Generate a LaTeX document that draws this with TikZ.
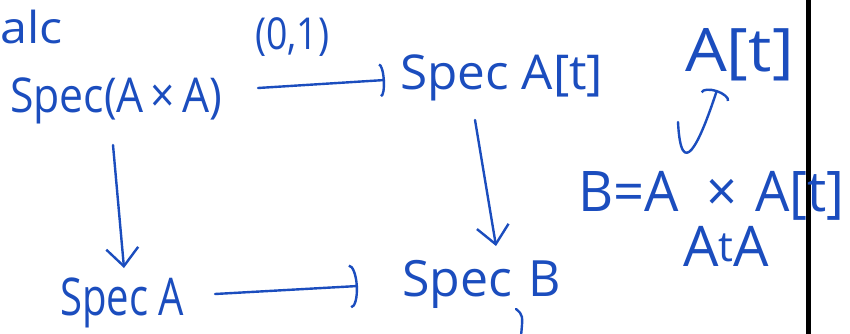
\documentclass[tikz,border=0pt]{standalone}
\usepackage{fontspec}
\setmainfont{Open Sans}
\usetikzlibrary{arrows.meta}
\definecolor{ink}{RGB}{27,77,190}
\tikzset{
  handtext/.style={anchor=base west, inner sep=0pt, text=ink},
  stroke/.style={draw=ink, line width=2.4pt, line cap=round, line join=round},
  vtip/.style={-{Straight Barb[length=18pt,width=32pt,line width=2.4pt]}},
  hooktip/.style={-{Arc Barb[length=8pt,width=44pt,line width=2.4pt]}},
  ticktip/.style={-{Arc Barb[length=5pt,width=34pt,line width=2.4pt]}},
  captip/.style={-{Arc Barb[length=7pt,width=30pt,line width=2.4pt]}}
}
\newcommand{\fs}[1]{\fontsize{#1}{#1}\selectfont}
\newcommand{\narrow}[2]{\scalebox{#1}[1]{#2}}
\begin{document}
\begin{tikzpicture}[x=1pt,y=-1pt]
  \useasboundingbox (0,0) rectangle (850,334);
  \clip (0,0) rectangle (850,334);
  \fill[white] (0,0) rectangle (850,334);

  % page divider
  \fill[black] (806,0) rectangle (811,334);

  % labels
  \node[handtext, font=\fs{44}] (calc) at (0,44) {\narrow{1.1}{alc}};
  \node[handtext, font=\fs{44}] (lab01) at (255,50) {\narrow{0.85}{(0,1)}};
  \node[handtext, font=\fs{48}] (sAA) at (10,112) {\narrow{0.89}{Spec(A\,×\,A)}};
  \node[handtext, font=\fs{48}] (sAt) at (400,90) {\narrow{1.03}{Spec A[t]}};
  \node[handtext, font=\fs{60}] (At) at (685,72) {\narrow{1.1}{A[t]}};
  \node[handtext, font=\fs{56}] (Beq) at (578,211) {\narrow{0.97}{B=A\,\,\,×\,\,A[t]}};
  \node[handtext, font=\fs{56}] (AtA) at (683,266) {A\raisebox{5pt}{\fs{42}t}A};
  \node[handtext, font=\fs{52}] (sA) at (60,315) {\narrow{0.77}{Spec A}};
  \node[handtext, font=\fs{50}] (sB) at (402,296) {Spec\,\,B};

  % maps between the spectra
  \draw[stroke, ticktip] ([xshift=248pt,yshift=24pt]sAA.base west) -- ([xshift=-15pt,yshift=10pt]sAt.base west);
  \draw[stroke, vtip] ([xshift=103pt,yshift=-33pt]sAA.base west) -- ([xshift=64pt,yshift=47pt]sA.base west);
  \draw[stroke, vtip] ([xshift=75pt,yshift=-30pt]sAt.base west) -- ([xshift=94pt,yshift=50pt]sB.base west);
  \draw[stroke, hooktip] ([xshift=155pt,yshift=21pt]sA.base west) -- ([xshift=-44pt,yshift=10pt]sB.base west);

  % inclusion of B into A[t]
  \draw[stroke, captip] ([xshift=100pt,yshift=89pt]Beq.base west)
    .. controls +(3,60) and +(-18,55) .. ([xshift=32pt,yshift=-18pt]At.base west);

  % stray stroke below Spec B
  \draw[stroke] (516,309) .. controls (523,315) .. (521,336);
\end{tikzpicture}
\end{document}
